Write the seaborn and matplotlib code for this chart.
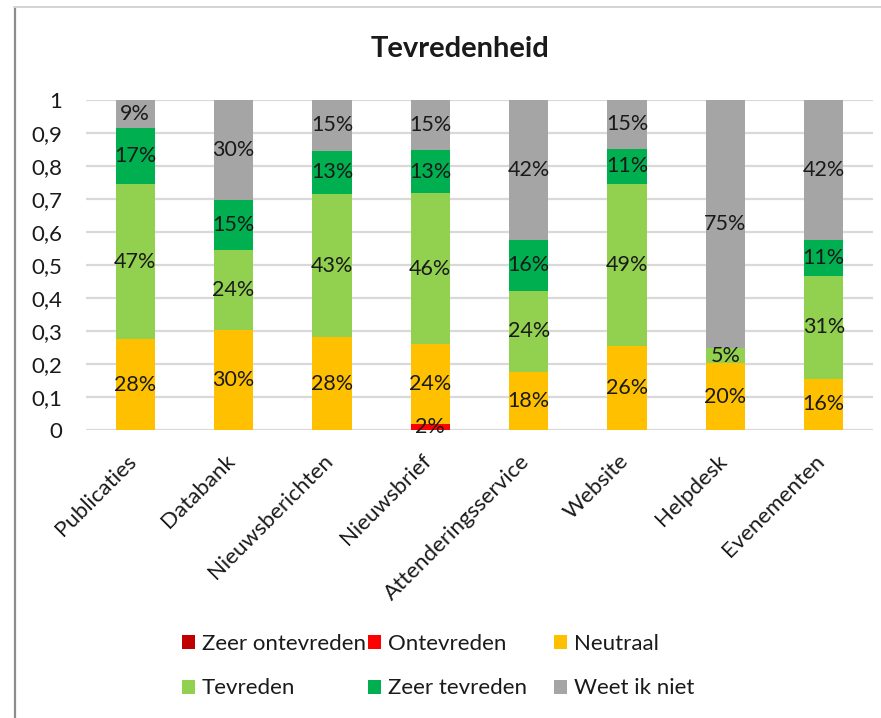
import matplotlib
matplotlib.use("Agg")
import matplotlib.pyplot as plt
import matplotlib.transforms as mtransforms
from matplotlib.lines import Line2D
from matplotlib.patches import Patch
import pandas as pd
import seaborn as sns

# Data (fractions of respondents)
categories = ["Publicaties", "Databank", "Nieuwsberichten", "Nieuwsbrief",
              "Attenderingsservice", "Website", "Helpdesk", "Evenementen"]
zeer_ontevreden = [0, 0, 0, 0, 0, 0, 0, 0]
ontevreden = [0, 0, 0, 0.018, 0, 0, 0, 0]
neutraal = [0.275, 0.304, 0.281, 0.242, 0.177, 0.256, 0.202, 0.156]
tevreden = [0.470, 0.240, 0.434, 0.457, 0.244, 0.490, 0.047, 0.312]
zeer_tevreden = [0.169, 0.152, 0.131, 0.130, 0.156, 0.107, 0.0, 0.109]
weet_ik_niet = [0.086, 0.304, 0.154, 0.153, 0.423, 0.147, 0.751, 0.423]

series_names = ["Zeer ontevreden", "Ontevreden", "Neutraal",
                "Tevreden", "Zeer tevreden", "Weet ik niet"]
series_values = [zeer_ontevreden, ontevreden, neutraal,
                 tevreden, zeer_tevreden, weet_ik_niet]
colors = ["#C00000", "#FF0000", "#FFC000", "#92D050", "#00B050", "#A5A5A5"]

sns.set_style("white")
plt.rcParams["font.family"] = ["Lato", "DejaVu Sans"]

df = pd.DataFrame(dict(zip(series_names, series_values)), index=categories)
cum = df.cumsum(axis=1)

fig = plt.figure(figsize=(8.81, 7.18), dpi=100)
ax = fig.add_axes([86 / 881, 1 - 430 / 718, 787 / 881, 330 / 718])

# stacked bars: draw cumulative totals from the top layer down
for name, color in reversed(list(zip(series_names, colors))):
    layer = pd.DataFrame({"categorie": categories, "waarde": cum[name].values})
    sns.barplot(data=layer, x="categorie", y="waarde", color=color,
                saturation=1, width=0.4, errorbar=None, linewidth=0, ax=ax)

# value labels in the middle of each segment
for name in series_names:
    bottoms = cum[name] - df[name]
    for i, cat in enumerate(categories):
        v = df.loc[cat, name]
        if v > 0:
            ax.text(i, bottoms[cat] + v / 2, f"{v:.0%}", ha="center",
                    va="center", fontsize=15.5, color="#1a1a1a")

ax.set_ylim(0, 1)
ax.set_xlim(-0.5, len(categories) - 0.5)
yt = [i / 10 for i in range(11)]
ax.set_yticks(yt)
ax.set_yticklabels(["0"] + [f"{t:.1f}".replace(".", ",") for t in yt[1:-1]] + ["1"])
ax.yaxis.grid(True, color="#d9d9d9", linewidth=1.6)
ax.set_axisbelow(True)
for s in ax.spines.values():
    s.set_visible(False)
ax.set_xlabel("")
ax.set_ylabel("")
ax.tick_params(axis="y", length=0, pad=17, labelsize=16, labelcolor="#1a1a1a")
ax.tick_params(axis="x", length=0, pad=15, labelsize=16, labelcolor="#1a1a1a")
offset = mtransforms.ScaledTranslation(0.05, 0, fig.dpi_scale_trans)
for lab in ax.get_xticklabels():
    lab.set_rotation(45)
    lab.set_ha("right")
    lab.set_va("top")
    lab.set_transform(lab.get_transform() + offset)

fig.text(460 / 881, 1 - 49 / 718, "Tevredenheid", ha="center", va="center",
         fontsize=21, fontweight="bold", color="#1a1a1a")

# legend: three columns with equal spacing, two rows each
col_x = [182 / 881, 368 / 881, 554 / 881]
for c in range(3):
    idx = [c, c + 3]
    handles = [Patch(facecolor=colors[k], edgecolor="none") for k in idx]
    fig.legend(handles, [series_names[k] for k in idx], loc="upper left",
               bbox_to_anchor=(col_x[c], 1 - 634 / 718), frameon=False,
               fontsize=16, borderpad=0, borderaxespad=0,
               handlelength=0.6, handleheight=0.6, handletextpad=0.3,
               labelspacing=1.1, labelcolor="#1a1a1a")

# chart frame
fig.add_artist(Line2D([14.5 / 881, 14.5 / 881], [0, 1 - 7 / 718],
                      color="#8c8c8c", linewidth=1.6))
fig.add_artist(Line2D([14 / 881, 1], [1 - 7 / 718, 1 - 7 / 718],
                      color="#d4d4d4", linewidth=1.4))

fig.savefig("out.png", dpi=100)
